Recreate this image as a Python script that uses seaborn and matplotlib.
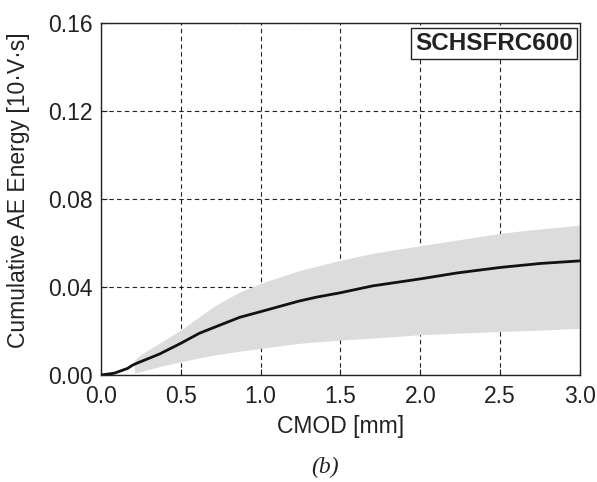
import matplotlib
matplotlib.use("Agg")
import matplotlib.pyplot as plt
import seaborn as sns
import pandas as pd

# Mean curve
cmod_mean = [0.0, 0.083, 0.167, 0.199, 0.23, 0.366, 0.5, 0.617, 0.868, 1.0, 1.24, 1.35,
             1.5, 1.70, 2.0, 2.23, 2.5, 2.75, 3.0]
energy_mean = [0.0, 0.0008, 0.003, 0.0045, 0.0055, 0.0095, 0.0144, 0.019, 0.0262, 0.0288,
               0.0336, 0.0354, 0.0374, 0.0405, 0.0437, 0.0464, 0.0489, 0.0507, 0.0519]

# Scatter band
cmod_band = [0.21, 0.262, 0.366, 0.5, 0.617, 0.72, 0.868, 1.0, 1.24, 1.5, 1.70, 2.0,
             2.5, 2.64, 3.0]
band_upper = [0.0068, 0.0099, 0.0144, 0.0205, 0.0265, 0.0318, 0.0377, 0.0417, 0.0474,
              0.0522, 0.0553, 0.0588, 0.0644, 0.0656, 0.0682]
band_lower = [0.0008, 0.0018, 0.0038, 0.006, 0.0078, 0.0092, 0.0108, 0.0121, 0.0144,
              0.0159, 0.0168, 0.0183, 0.0198, 0.0201, 0.0212]

xticks = [0.0, 0.5, 1.0, 1.5, 2.0, 2.5, 3.0]
yticks = [0.00, 0.04, 0.08, 0.12, 0.16]

sns.set_theme(style="ticks")
plt.rcParams["font.family"] = ["Liberation Sans", "DejaVu Sans"]

fig = plt.figure(figsize=(5.97, 4.82), dpi=100)
ax = fig.add_axes([0.169, 0.222, 0.8025, 0.730])

ax.fill_between(cmod_band, band_lower, band_upper, color="#dcdcdd", linewidth=0, zorder=1)
df = pd.DataFrame({"CMOD": cmod_mean, "E": energy_mean})
sns.lineplot(data=df, x="CMOD", y="E", ax=ax, color="#111111", linewidth=2.0, zorder=3)

ax.set_xlim(0, 3.0)
ax.set_ylim(0, 0.16)
ax.set_xticks(xticks)
ax.set_xticklabels([f"{v:.1f}" for v in xticks])
ax.set_yticks(yticks)
ax.set_yticklabels([f"{v:.2f}" for v in yticks])
ax.grid(True, linestyle=(0, (4, 3)), color="#222222", linewidth=0.8, zorder=0)
ax.set_axisbelow(True)
for s in ax.spines.values():
    s.set_color("#222222")
    s.set_linewidth(1.0)
ax.tick_params(direction="in", length=4, width=0.8, colors="#222222",
               labelsize=16.5, labelcolor="#222222")
ax.tick_params(axis="x", pad=7)
ax.tick_params(axis="y", pad=6)

ax.set_xlabel("CMOD [mm]", fontsize=16.5, color="#222222")
ax.xaxis.set_label_coords(0.5, -0.113)
ax.set_ylabel("Cumulative AE Energy [10·V·s]", fontsize=16.5, color="#222222")
ax.yaxis.set_label_coords(-0.148, 0.524)

ax.text(0.985, 0.975, "SCHSFRC600", transform=ax.transAxes, ha="right", va="top",
        fontsize=17.5, fontweight="bold", color="#222222", zorder=5,
        bbox=dict(boxstyle="square,pad=0.16", facecolor="white", edgecolor="#222222", linewidth=1.0))

fig.text(0.545, 0.031, "(b)", ha="center", va="center", fontsize=17,
         family=["Liberation Serif", "DejaVu Serif"], style="italic", color="#222222")

fig.savefig("out.png", dpi=100)
